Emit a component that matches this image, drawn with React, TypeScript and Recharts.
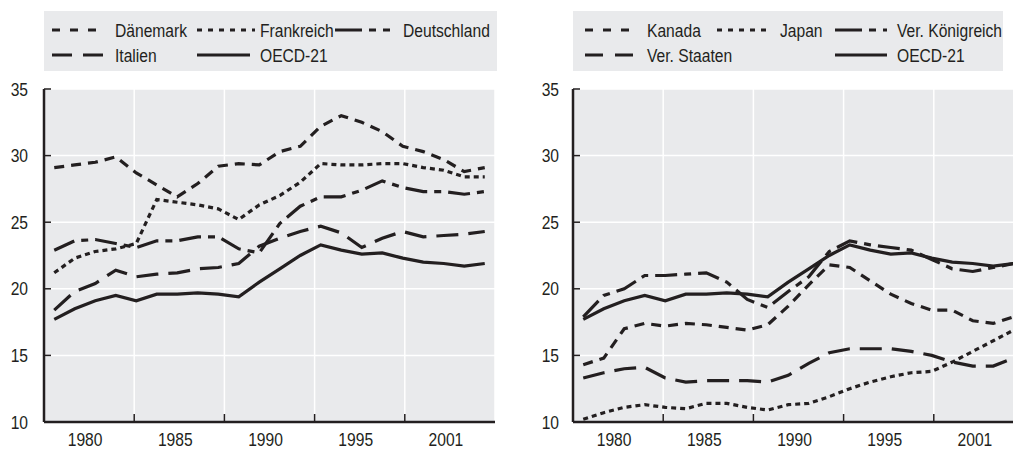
import React from 'react';
import { LineChart, Line, XAxis, YAxis, CartesianGrid } from 'recharts';

// ---------- data ----------
const years = [1980, 1981, 1982, 1983, 1984, 1985, 1986, 1987, 1988, 1989, 1990, 1991, 1992, 1993, 1994, 1995, 1996, 1997, 1998, 1999, 2000, 2001];
const xTickLabels = ['1980', '1985', '1990', '1995', '2001'];
const yTicks = [10, 15, 20, 25, 30, 35];

const daenemark = [29.1, 29.3, 29.5, 29.9, 28.7, 27.8, 26.9, 27.9, 29.2, 29.4, 29.3, 30.3, 30.7, 32.2, 33.0, 32.5, 31.8, 30.7, 30.3, 29.7, 28.8, 29.1];
const frankreich = [21.2, 22.3, 22.8, 23.0, 23.4, 26.7, 26.5, 26.3, 26.0, 25.2, 26.3, 27.0, 28.0, 29.4, 29.3, 29.3, 29.4, 29.4, 29.1, 28.9, 28.4, 28.4];
const deutschland = [22.9, 23.6, 23.7, 23.4, 23.1, 23.6, 23.6, 23.9, 23.9, 23.0, 22.7, 24.9, 26.2, 26.9, 26.9, 27.4, 28.1, 27.6, 27.3, 27.3, 27.1, 27.3];
const italien = [18.4, 19.8, 20.4, 21.4, 20.9, 21.1, 21.2, 21.5, 21.6, 21.9, 23.2, 23.8, 24.3, 24.7, 24.2, 23.1, 23.8, 24.3, 23.9, 24.0, 24.1, 24.3];
const oecd21 = [17.7, 18.5, 19.1, 19.5, 19.1, 19.6, 19.6, 19.7, 19.6, 19.4, 20.5, 21.5, 22.5, 23.3, 22.9, 22.6, 22.7, 22.3, 22.0, 21.9, 21.7, 21.9];

const kanada = [14.3, 14.8, 17.0, 17.4, 17.2, 17.4, 17.3, 17.1, 16.9, 17.3, 18.7, 20.3, 21.8, 21.6, 20.6, 19.6, 18.9, 18.4, 18.4, 17.6, 17.4, 17.9];
const japan = [10.2, 10.7, 11.1, 11.3, 11.1, 11.0, 11.4, 11.4, 11.1, 10.9, 11.3, 11.4, 11.9, 12.5, 13.0, 13.4, 13.7, 13.8, 14.5, 15.3, 16.1, 16.9];
const verKoenigreich = [17.9, 19.5, 20.0, 21.0, 21.0, 21.1, 21.2, 20.5, 19.2, 18.6, 19.8, 20.9, 22.8, 23.6, 23.3, 23.1, 22.9, 22.2, 21.5, 21.3, 21.6, 21.9];
const verStaaten = [13.3, 13.7, 14.0, 14.1, 13.3, 13.0, 13.1, 13.1, 13.1, 13.0, 13.5, 14.4, 15.2, 15.5, 15.5, 15.5, 15.3, 15.0, 14.5, 14.2, 14.2, 14.8];

// ---------- styling ----------
const INK = '#231f20';
const BG = '#e9eaec';
const FONT = '"Liberation Sans", Arial, sans-serif';
const FS = 18.5;
const SQUEEZE = 0.845;
const PLOT_W = 451;

const DASH_SHORT = '10 7';
const DASH_DOT = '5 4';
const DASH_LONGDOT = '22 7 7 7';
const DASH_LONG = '22 10';

// x domain in index units; the axis is split in equal label bands
const X_MIN = -0.5;
const X_MAX = years.length - 0.5;
const BAND = (X_MAX - X_MIN) / xTickLabels.length;
const bandEdges = [...xTickLabels.map((_, k) => X_MIN + BAND * k), X_MAX];

type Series = { key: string; name: string; values: number[]; dash?: string };
type LegendItem = { name: string; dash?: string; x1: number; x2: number; tx: number; row: number };

const leftSeries: Series[] = [
  { key: 'dk', name: 'Dänemark', values: daenemark, dash: DASH_SHORT },
  { key: 'fr', name: 'Frankreich', values: frankreich, dash: DASH_DOT },
  { key: 'de', name: 'Deutschland', values: deutschland, dash: DASH_LONGDOT },
  { key: 'it', name: 'Italien', values: italien, dash: DASH_LONG },
  { key: 'oecd', name: 'OECD-21', values: oecd21 },
];
const rightSeries: Series[] = [
  { key: 'ca', name: 'Kanada', values: kanada, dash: DASH_SHORT },
  { key: 'jp', name: 'Japan', values: japan, dash: DASH_DOT },
  { key: 'uk', name: 'Ver. Königreich', values: verKoenigreich, dash: DASH_LONGDOT },
  { key: 'us', name: 'Ver. Staaten', values: verStaaten, dash: DASH_LONG },
  { key: 'oecd', name: 'OECD-21', values: oecd21 },
];

const leftLegend: LegendItem[] = [
  { name: 'Dänemark', dash: '8 10', x1: 52, x2: 100, tx: 115, row: 0 },
  { name: 'Frankreich', dash: '5 6', x1: 197, x2: 255, tx: 260, row: 0 },
  { name: 'Deutschland', dash: '27 7 7 7 7 30', x1: 335, x2: 392, tx: 403, row: 0 },
  { name: 'Italien', dash: '20 11', x1: 52, x2: 103, tx: 115, row: 1 },
  { name: 'OECD-21', x1: 197, x2: 250, tx: 260, row: 1 },
];
const rightLegend: LegendItem[] = [
  { name: 'Kanada', dash: '8 10', x1: 585, x2: 637, tx: 647, row: 0 },
  { name: 'Japan', dash: '5 6', x1: 717, x2: 772, tx: 780, row: 0 },
  { name: 'Ver. Königreich', dash: '27 7 7 7 7 30', x1: 835, x2: 887, tx: 897, row: 0 },
  { name: 'Ver. Staaten', dash: '18 12', x1: 585, x2: 637, tx: 647, row: 1 },
  { name: 'OECD-21', x1: 835, x2: 887, tx: 897, row: 1 },
];

const NText = ({ x, y, anchor, children }: { x: number; y: number; anchor?: 'start' | 'middle' | 'end'; children: React.ReactNode }) => (
  <text
    x={0}
    y={0}
    transform={`translate(${x} ${y}) scale(${SQUEEZE} 1)`}
    textAnchor={anchor || 'start'}
    fontFamily={FONT}
    fontSize={FS}
    fill={INK}
  >
    {children}
  </text>
);

const LegendBox = ({ items, boxX, boxW }: { items: LegendItem[]; boxX: number; boxW: number }) => (
  <svg width={1013} height={80} style={{ position: 'absolute', left: 0, top: 0 }}>
    <rect x={boxX} y={11} width={boxW} height={60} fill={BG} />
    {items.map((it) => {
      const ly = it.row === 0 ? 30 : 55;
      const ty = it.row === 0 ? 36.5 : 62;
      return (
        <g key={it.name + it.x1}>
          <line x1={it.x1} x2={it.x2} y1={ly} y2={ly} stroke={INK} strokeWidth={3.2} strokeDasharray={it.dash} />
          <NText x={it.tx} y={ty}>{it.name}</NText>
        </g>
      );
    })}
  </svg>
);

const Panel = ({ series, left, yAxisWidth, labelGap }: { series: Series[]; left: number; yAxisWidth: number; labelGap: number }) => {
  const rows = years.map((y, i) => {
    const r: Record<string, number> = { i, year: y };
    series.forEach((s) => { r[s.key] = s.values[i]; });
    return r;
  });
  const YTick = (p: any) => {
    const { x, y, payload } = p;
    return (
      <g>
        <line x1={x} x2={x + 7} y1={y} y2={y} stroke={INK} strokeWidth={1.5} />
        <NText x={x - labelGap} y={y + 6.5} anchor="end">{payload.value}</NText>
      </g>
    );
  };
  const halfBandPx = PLOT_W / xTickLabels.length / 2;
  const XTick = (p: any) => {
    const { x, y, index } = p;
    const label = xTickLabels[index];
    const interior = index > 0 && index < xTickLabels.length;
    return (
      <g>
        {interior && <line x1={x} x2={x} y1={y} y2={y - 8} stroke={INK} strokeWidth={1.5} />}
        {label && <NText x={x + halfBandPx - 4} y={y + 23.5} anchor="middle">{label}</NText>}
      </g>
    );
  };
  const width = yAxisWidth + PLOT_W + 5;
  return (
    <div style={{ position: 'absolute', left, top: 0 }}>
      <LineChart width={width} height={450} data={rows} margin={{ top: 89, right: 5, bottom: 0, left: 0 }}>
        <CartesianGrid stroke="#ffffff" strokeWidth={1.5} fill={BG} fillOpacity={1} />
        <XAxis
          dataKey="i"
          type="number"
          domain={[X_MIN, X_MAX]}
          allowDataOverflow
          ticks={bandEdges}
          height={28}
          tickSize={0}
          tickMargin={0}
          tickLine={false}
          axisLine={{ stroke: INK, strokeWidth: 2.5 }}
          tick={XTick}
          interval={0}
        />
        <XAxis
          xAxisId="top"
          dataKey="i"
          type="number"
          orientation="top"
          domain={[X_MIN, X_MAX]}
          allowDataOverflow
          height={0}
          tick={false}
          tickLine={false}
          axisLine={{ stroke: '#3a3a3a', strokeWidth: 1.8 }}
        />
        <YAxis
          type="number"
          domain={[10, 35]}
          allowDataOverflow
          ticks={yTicks}
          width={yAxisWidth}
          tickSize={0}
          tickMargin={0}
          tickLine={false}
          axisLine={{ stroke: INK, strokeWidth: 2.5 }}
          tick={YTick}
          interval={0}
        />
        <YAxis
          yAxisId="right"
          orientation="right"
          type="number"
          domain={[10, 35]}
          allowDataOverflow
          width={0}
          tick={false}
          tickLine={false}
          axisLine={{ stroke: '#3a3a3a', strokeWidth: 1.8 }}
        />
        {series.map((s) => (
          <Line
            key={s.key}
            dataKey={s.key}
            name={s.name}
            type="linear"
            stroke={INK}
            strokeWidth={3.2}
            strokeDasharray={s.dash}
            dot={false}
            activeDot={false}
            isAnimationActive={false}
          />
        ))}
      </LineChart>
    </div>
  );
};

export default function App() {
  return (
    <div style={{ position: 'absolute', left: 0, top: 0, width: 1013, height: 450, overflow: 'hidden', background: '#ffffff' }}>
      <LegendBox items={leftLegend} boxX={44} boxW={453} />
      <LegendBox items={rightLegend} boxX={573} boxW={430} />
      <Panel series={leftSeries} left={0} yAxisWidth={44} labelGap={16} />
      <Panel series={rightSeries} left={500} yAxisWidth={73} labelGap={14} />
    </div>
  );
}
